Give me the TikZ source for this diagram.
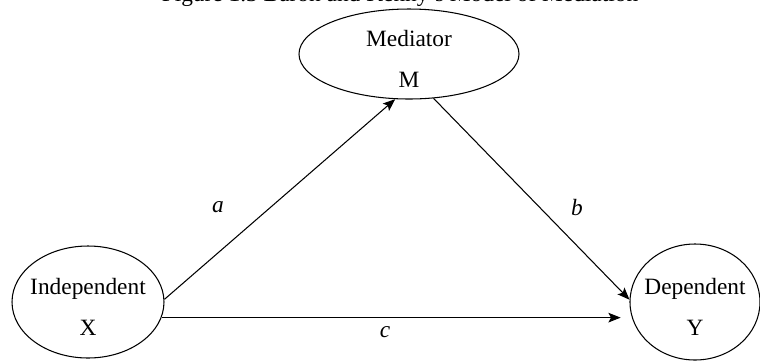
\documentclass[tikz,border=0pt]{standalone}
\usepackage{fontspec}
\setmainfont{Liberation Serif}
\usetikzlibrary{shapes.geometric,arrows.meta}

\begin{document}
\begin{tikzpicture}[
  var/.style={draw, ellipse, semithick, inner sep=-8pt, align=center, text height=38pt, font=\fontsize{13.3}{23}\selectfont},
  coef/.style={font=\fontsize{13.3}{16}\selectfont\itshape},
  arrow/.style={-{Stealth[length=7pt, width=5.5pt, inset=1.5pt]}, semithick}
]
  \useasboundingbox (0,0) rectangle (15.2,-7.26);
  \clip (0,0) rectangle (15.2,-7.26);

  % Title (cut at the top edge)
  \node[anchor=base, font=\fontsize{13.3}{16}\selectfont] (title) at (8.0,-0.03) {Figure 1.3 Baron and Kenny's Model of Mediation};

  % Variables
  \node[var, minimum width=4.4cm, minimum height=1.8cm] (med) at (8.18,-1.08) {Mediator\\M};
  \node[var, minimum width=3.04cm, minimum height=2.24cm] (indep) at (1.76,-6.04) {Independent\\X};
  \node[var, minimum width=2.6cm, minimum height=2.32cm] (dep) at (13.9,-6.04) {Dependent\\Y};

  % Paths
  \draw[arrow] (indep.2) -- (med.-107);
  \draw[arrow] (med.-61) -- (dep.178);
  \draw[arrow, shorten >=5pt] (indep.-12) -- (indep.-12 -| dep.west);

  % Coefficients
  \node[coef] (pa) at (4.36,-4.14) {a};
  \node[coef] (pb) at (11.54,-4.14) {b};
  \node[coef] (pc) at (7.7,-6.64) {c};
\end{tikzpicture}
\end{document}
